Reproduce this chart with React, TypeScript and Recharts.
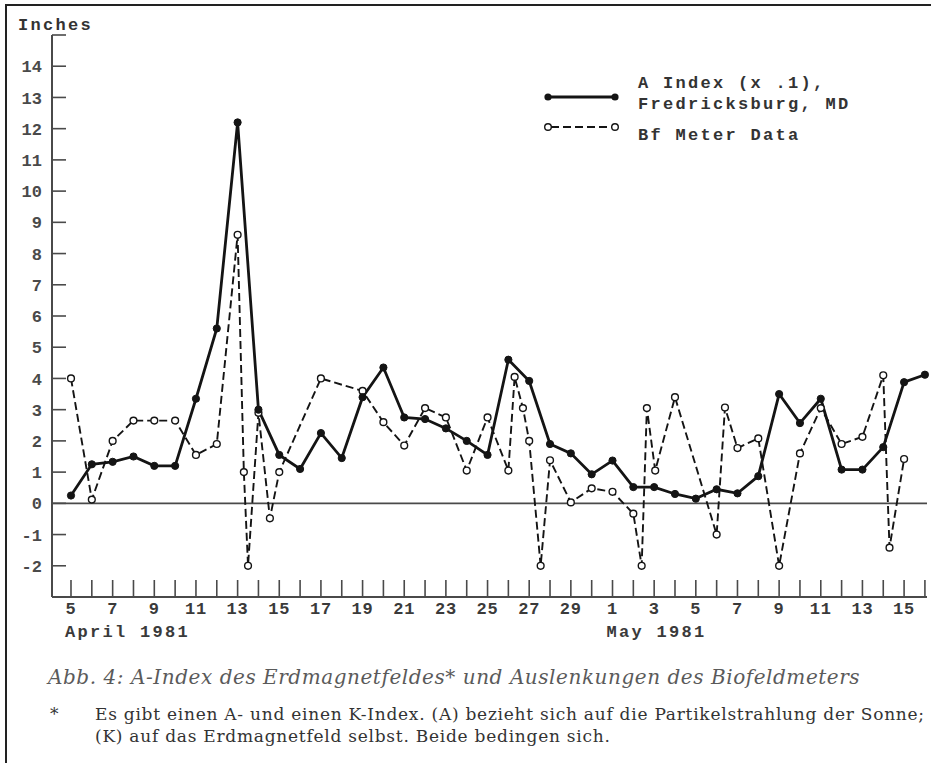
import { LineChart, Line, XAxis, YAxis, ReferenceLine, Legend } from 'recharts';

// day labels, one per day from 5 April to 16 May 1981
const dayLabels = [
  '5', '6', '7', '8', '9', '10', '11', '12', '13', '14', '15', '16', '17', '18', '19',
  '20', '21', '22', '23', '24', '25', '26', '27', '28', '29', '30',
  '1', '2', '3', '4', '5', '6', '7', '8', '9', '10', '11', '12', '13', '14', '15', '16',
];
const monthNames = ['April 1981', 'May 1981'];
const monthStart = [0, 26];

// A Index (x .1), Fredricksburg MD - one value per day
const aIndex = [
  0.25, 1.25, 1.33, 1.5, 1.2, 1.2, 3.35, 5.6, 12.2, 3.0, 1.55, 1.1,
  2.25, 1.45, 3.4, 4.35, 2.75, 2.7, 2.4, 2.0, 1.55, 4.6, 3.92, 1.9, 1.6, 0.93,
  1.37, 0.52, 0.52, 0.3, 0.15, 0.45, 0.32, 0.87, 3.5, 2.57, 3.35, 1.08, 1.08, 1.8, 3.88, 4.12,
];

// Bf meter readings - some taken between days
const bfDay = [
  0, 1, 2, 3, 4, 5, 6, 7, 8, 8.3, 8.5, 9, 9.55, 10, 12, 14, 15, 16, 17, 18, 19, 20,
  21, 21.3, 21.7, 22, 22.55, 23, 24, 25, 26, 27, 27.4, 27.65, 28.05, 29, 31, 31.4,
  32, 33, 34, 35, 36, 37, 38, 39, 39.3, 40,
];
const bfValue = [
  4.0, 0.12, 2.0, 2.65, 2.65, 2.65, 1.55, 1.9, 8.6, 1.0, -2.0, 2.9, -0.48, 1.0, 4.0, 3.6, 2.6, 1.85, 3.05, 2.75, 1.05, 2.75,
  1.05, 4.05, 3.05, 2.0, -2.0, 1.38, 0.03, 0.48, 0.37, -0.33, -2.0, 3.05, 1.05, 3.4, -1.0, 3.07,
  1.77, 2.08, -2.0, 1.6, 3.05, 1.9, 2.13, 4.1, -1.42, 1.42,
];

const yTicks = [-3, -2, -1, 0, 1, 2, 3, 4, 5, 6, 7, 8, 9, 10, 11, 12, 13, 14, 15];
const xTicks = dayLabels.map((_, i) => i);

const aData = aIndex.map((v, i) => ({ day: i, value: v }));
const bfData = bfDay.map((d, i) => ({ day: d, value: bfValue[i] }));

const W = 931;
const H = 650;
const PLOT_LEFT = 52;
const AXIS_Y = 597;
const INK = '#141414';
const AXIS = '#4a4a4a';
const TYPE = '"Liberation Mono", "DejaVu Sans Mono", monospace';

function XTick(props: any) {
  const { x, payload } = props;
  const i = payload.value as number;
  const label = dayLabels[i];
  const m = monthStart.indexOf(i);
  return (
    <g>
      <line x1={x} x2={x} y1={AXIS_Y} y2={AXIS_Y - 17} stroke={AXIS} strokeWidth={1.6} />
      {Number(label) % 2 === 1 && (
        <text x={x} y={AXIS_Y + 17} textAnchor="middle" fontFamily={TYPE} fontWeight="bold"
          fontSize={17} letterSpacing={0.8} fill="#3a3a3a">{label}</text>
      )}
      {m >= 0 && (
        <text x={x - 6} y={AXIS_Y + 40} textAnchor="start" fontFamily={TYPE} fontWeight="bold"
          fontSize={17} letterSpacing={2.3} fill="#3a3a3a">{monthNames[m]}</text>
      )}
    </g>
  );
}

function YTick(props: any) {
  const { y, payload } = props;
  const v = payload.value as number;
  const showLabel = v > -3 && v < 15;
  return (
    <g>
      <line x1={PLOT_LEFT} x2={PLOT_LEFT + 14} y1={y} y2={y} stroke={AXIS} strokeWidth={1.6} />
      {showLabel && (
        <text x={42} y={y} dy="0.36em" textAnchor="end" fontFamily={TYPE} fontWeight="bold"
          fontSize={17} fill="#4a4a4a">{v}</text>
      )}
    </g>
  );
}

function LegendBox() {
  const txt = { fontFamily: TYPE, fontWeight: 'bold' as const, fontSize: 17, letterSpacing: 2.3, fill: '#333' };
  return (
    <svg width={320} height={80}>
      <line x1={8} x2={75} y1={27} y2={27} stroke={INK} strokeWidth={2.8} />
      <circle cx={8} cy={27} r={3.6} fill={INK} />
      <circle cx={75} cy={27} r={3.6} fill={INK} />
      <line x1={11} x2={72} y1={57} y2={57} stroke={INK} strokeWidth={1.9} strokeDasharray="8 4" />
      <circle cx={8} cy={57} r={3.3} fill="#fff" stroke={INK} strokeWidth={1.4} />
      <circle cx={75} cy={57} r={3.3} fill="#fff" stroke={INK} strokeWidth={1.4} />
      <text x={98} y={12} dy="0.35em" {...txt}>A Index (x .1),</text>
      <text x={98} y={33} dy="0.35em" {...txt}>Fredricksburg, MD</text>
      <text x={98} y={64} dy="0.35em" {...txt}>Bf Meter Data</text>
    </svg>
  );
}

export default function App() {
  return (
    <div style={{ position: 'absolute', left: 0, top: 0, width: W, height: 763, background: '#fff', overflow: 'hidden' }}>
      <div style={{ position: 'absolute', left: 5, top: 4, right: -4, bottom: -4, borderTop: '2px solid #222', borderLeft: '2px solid #222' }} />
      <div style={{ position: 'absolute', left: 18, top: 16, fontFamily: TYPE, fontWeight: 'bold', fontSize: 17, letterSpacing: 2.3, color: '#333' }}>
        Inches
      </div>
      <div style={{ position: 'absolute', left: 0, top: 0 }}>
        <LineChart width={W} height={H} margin={{ top: 35, right: 4, bottom: 3, left: 12 }}>
          <XAxis
            dataKey="day"
            type="number"
            domain={[-0.912, 41.1]}
            ticks={xTicks}
            interval={0}
            height={50}
            tickLine={false}
            axisLine={{ stroke: AXIS, strokeWidth: 2 }}
            tick={<XTick />}
            allowDuplicatedCategory={false}
          />
          <YAxis
            type="number"
            domain={[-3, 15]}
            ticks={yTicks}
            interval={0}
            width={40}
            tickLine={false}
            axisLine={{ stroke: AXIS, strokeWidth: 2 }}
            tick={<YTick />}
          />
          <ReferenceLine y={0} stroke={AXIS} strokeWidth={1.6} />
          <Line
            data={bfData}
            dataKey="value"
            name="Bf Meter Data"
            stroke={INK}
            strokeWidth={1.9}
            strokeDasharray="8 4"
            dot={{ r: 3.4, fill: '#fff', stroke: INK, strokeWidth: 1.4, strokeDasharray: '0' }}
            activeDot={false}
            isAnimationActive={false}
          />
          <Line
            data={aData}
            dataKey="value"
            name="A Index"
            stroke={INK}
            strokeWidth={2.8}
            dot={{ r: 3.6, fill: INK, stroke: INK, strokeWidth: 1 }}
            activeDot={false}
            isAnimationActive={false}
          />
          <Legend
            layout="vertical"
            align="center"
            verticalAlign="middle"
            wrapperStyle={{ left: 540, top: 70, width: 320, height: 80 }}
            content={() => <LegendBox />}
          />
        </LineChart>
      </div>
      <div style={{ position: 'absolute', left: 48, top: 665, fontFamily: '"DejaVu Serif", serif', fontStyle: 'italic', fontSize: 20, letterSpacing: 0.55, color: '#5a5a5a', whiteSpace: 'nowrap' }}>
        Abb. 4: A-Index des Erdmagnetfeldes* und Auslenkungen des Biofeldmeters
      </div>
      <div style={{ position: 'absolute', left: 50, top: 704, fontFamily: '"DejaVu Serif", serif', fontSize: 17, color: '#333' }}>*</div>
      <div style={{ position: 'absolute', left: 95, top: 703, fontFamily: '"DejaVu Serif", serif', fontSize: 17, letterSpacing: 0.75, lineHeight: '22px', color: '#333', whiteSpace: 'nowrap' }}>
        Es gibt einen A- und einen K-Index. (A) bezieht sich auf die Partikelstrahlung der Sonne;<br />
        (K) auf das Erdmagnetfeld selbst. Beide bedingen sich.
      </div>
    </div>
  );
}
